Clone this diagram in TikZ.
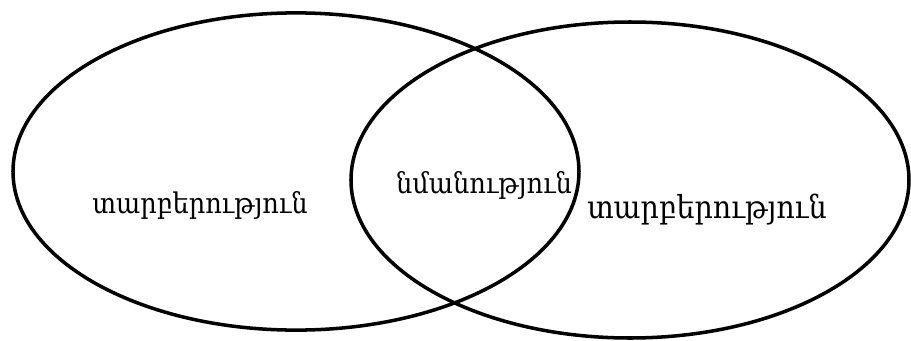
\documentclass[tikz,border=0pt]{standalone}
\usepackage{fontspec}
\setmainfont{DejaVu Serif Condensed}
\usepackage{tikz}

\begin{document}
\begin{tikzpicture}
        \useasboundingbox (0,0) rectangle (9.11,3.40);
        \tikzset{setring/.style={line width=1pt, draw=black}}

        % the two sets
        \draw[setring] (2.96,1.685) ellipse (2.83 and 1.586);
        \draw[setring] (6.30,1.60) ellipse (2.79 and 1.58);

        \node[anchor=base, font=\fontsize{8.1}{10}\selectfont] (diffleft) at (2.00,1.27) {տարբերություն};
        \node[anchor=base, font=\fontsize{8.1}{10}\selectfont] (same) at (4.84,1.47) {նմանություն};
        \node[anchor=base, font=\fontsize{9}{11}\selectfont] (diffright) at (7.07,1.22) {տարբերություն};
    \end{tikzpicture}
\end{document}
